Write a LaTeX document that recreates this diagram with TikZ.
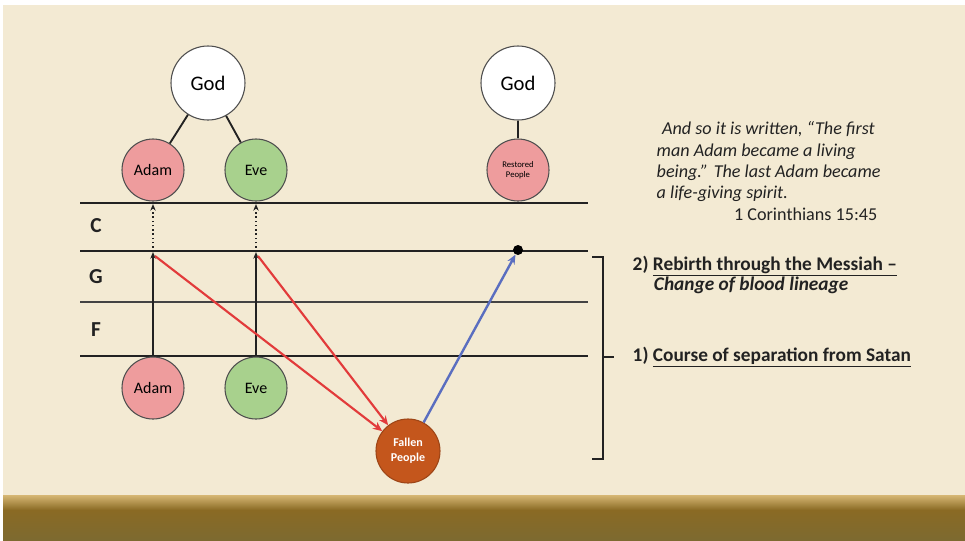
\documentclass[tikz,border=0pt]{standalone}
\usepackage{fontspec}
\setmainfont{Carlito}
\usetikzlibrary{arrows.meta}
\definecolor{cream}{HTML}{F3EAD3}
\definecolor{bandtop}{HTML}{D6B774}
\definecolor{bandmid}{HTML}{8A6A24}
\definecolor{bandbot}{HTML}{7D6A30}
\definecolor{adampink}{HTML}{EE9C9D}
\definecolor{evegreen}{HTML}{A8D18D}
\definecolor{fallenorange}{HTML}{C4561C}
\definecolor{redarrow}{HTML}{E23B3B}
\definecolor{bluearrow}{HTML}{5A6EC0}
\definecolor{ink}{HTML}{222222}
\tikzset{
  circ/.style={circle, draw=ink!80, line width=0.8pt, inner sep=0pt, align=center},
  godnode/.style={circ, fill=white, minimum size=55.5pt, font=\fontsize{15.5}{17}\selectfont},
  adamnode/.style={circ, fill=adampink, minimum size=46.5pt, font=\fontsize{12}{13}\selectfont},
  evenode/.style={circ, fill=evegreen, minimum size=46.5pt, font=\fontsize{12}{13}\selectfont},
  restorednode/.style={circ, fill=adampink, minimum size=46.5pt, font=\fontsize{6.5}{7.5}\selectfont},
  fallennode/.style={circ, fill=fallenorange, draw=fallenorange!80!black, minimum size=48pt, text=white, font=\bfseries\fontsize{9}{11}\selectfont},
  hline/.style={ink, line width=1.4pt},
  link/.style={ink, line width=1.4pt},
  uparrow/.style={ink, line width=1.2pt, -{Stealth[length=5pt,width=4pt]}},
  dotarrow/.style={ink, line width=1.2pt, dotted, -{Stealth[length=5pt,width=4pt]}},
  redarr/.style={redarrow, line width=1.6pt, -{Stealth[length=7pt,width=6pt]}},
  bluearr/.style={bluearrow, line width=1.8pt, -{Stealth[length=7pt,width=6pt]}},
  levellabel/.style={font=\bfseries\fontsize{16}{18}\selectfont, text=ink},
  bracketline/.style={ink, line width=1.4pt},
  sidetext/.style={anchor=west, align=left, font=\bfseries\fontsize{14.5}{15.5}\selectfont, text=ink},
  quotetext/.style={anchor=north west, align=left, font=\itshape\fontsize{13.6}{16}\selectfont, text=ink}
}
\begin{document}
\begin{tikzpicture}[x=0.75pt,y=-0.75pt]
% background
\fill[white] (0,0) rectangle (965,540);
\fill[cream] (3,5) rectangle (965,497);
\shade[top color=bandtop, bottom color=bandmid] (3,495) rectangle (965,510);
\shade[top color=bandmid, bottom color=bandbot] (3,510) rectangle (965,540);
\useasboundingbox (0,0) rectangle (965,540);

% horizontal level lines
\coordinate (l1a) at (80,203); \coordinate (l1b) at (588,203);
\coordinate (l2a) at (80,251); \coordinate (l2b) at (588,251);
\coordinate (l3a) at (80,302); \coordinate (l3b) at (588,302);
\coordinate (l4a) at (80,356); \coordinate (l4b) at (588,356);
\draw[hline] (l1a) -- (l1b);
\draw[hline] (l2a) -- (l2b);
\draw[hline, ink!85, line width=2pt] (l3a) -- (l3b);
\draw[hline] (l4a) -- (l4b);

\node[levellabel] (lc) at (96,226) {C};
\node[levellabel] (lg) at (96,277) {G};
\node[levellabel] (lf) at (96,330) {F};

% nodes
\node[godnode] (godL) at (208,83) {God};
\node[godnode] (godR) at (518,83) {God};
\node[adamnode] (adamT) at (153,170) {Adam};
\node[evenode] (eveT) at (256,170) {Eve};
\node[restorednode] (restored) at (518,170) {Restored\\People};
\node[adamnode] (adamB) at (153,388) {Adam};
\node[evenode] (eveB) at (256,388) {Eve};
\node[fallennode] (fallen) at (408,451) {Fallen\\People};

\draw[link] (godL) -- (adamT);
\draw[link] (godL) -- (eveT);
\draw[link] (godR) -- (restored);

% vertical growth arrows
\coordinate (aG) at (153,252);
\coordinate (aC) at (153,204);
\coordinate (eG) at (256,252);
\coordinate (eC) at (256,204);
\draw[uparrow] (adamB) -- (aG);
\draw[dotarrow] (aG) -- (aC);
\draw[uparrow] (eveB) -- (eG);
\draw[dotarrow] (eG) -- (eC);

% fall arrows
\coordinate (aFall) at (155,256);
\coordinate (eFall) at (258,256);
\draw[redarr] (aFall) -- (fallen);
\draw[redarr] (eFall) -- (fallen);

% rebirth arrow
\node[circle, fill=black, inner sep=0pt, minimum size=7.5pt] (dot) at (518,250) {};
\draw[bluearr] (fallen) -- (dot);

% bracket
\coordinate (bt0) at (592,257); \coordinate (bt1) at (603,257);
\coordinate (bb0) at (592,459); \coordinate (bb1) at (603,459);
\coordinate (bm0) at (603,357); \coordinate (bm1) at (614,357);
\draw[bracketline] (bt0) -- (bt1) -- (bb1) -- (bb0);
\draw[bracketline] (bm0) -- (bm1);

% side texts
\node[sidetext] (rebirth) at (628,275) {2) \underline{Rebirth through the Messiah –}\\
\hspace*{1.1em}\textit{Change of blood lineage}};
\node[sidetext] (course) at (628,357) {1) \underline{Course of separation from Satan}};

% quote
\node[quotetext] (quote) at (652,117) {\hspace*{0.3em}And so it is written, “The first\\
man Adam became a living\\
being.” The last Adam became\\
a life-giving spirit.};
\node[anchor=east, font=\fontsize{13.6}{15}\selectfont, text=ink] (cite) at (882,214) {1 Corinthians 15:45};
\end{tikzpicture}
\end{document}
